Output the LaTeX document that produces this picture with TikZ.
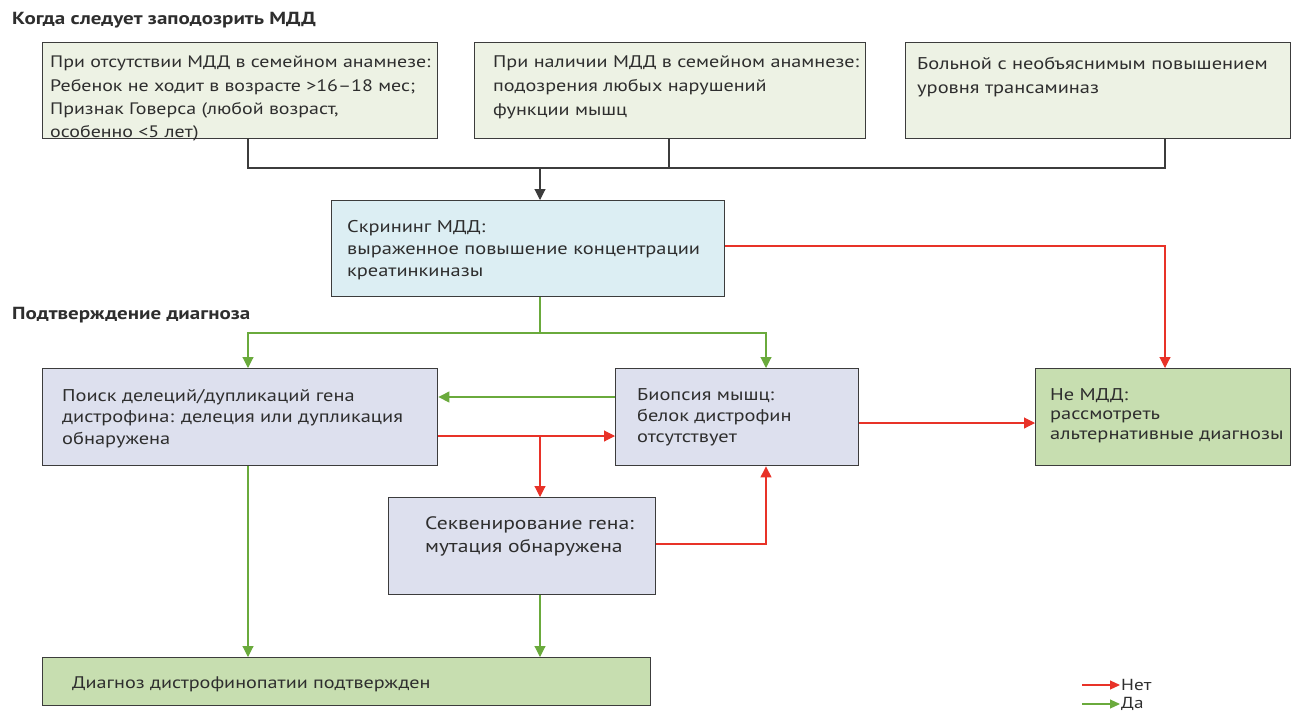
\documentclass[tikz,border=0pt]{standalone}
\usepackage{fontspec}
\setmainfont[FakeStretch=1.2]{PT Sans}
\usetikzlibrary{arrows.meta}
\definecolor{bordc}{HTML}{3C3C3C}
\definecolor{txtc}{HTML}{2E2E2E}
\definecolor{fillA}{HTML}{EDF2E4}
\definecolor{fillD}{HTML}{DCEEF3}
\definecolor{fillE}{HTML}{DDE0EE}
\definecolor{fillG}{HTML}{C7DEB0}
\definecolor{lgreen}{HTML}{6AAA3C}
\definecolor{lred}{HTML}{E83228}
\tikzset{
  box/.style={draw=bordc, line width=1.4pt, anchor=north west, inner sep=0pt},
  btxt/.style={anchor=north west, inner sep=0pt, align=left, text=txtc, font=\fontsize{17}{#1}\selectfont},
  btxt/.default=23,
  head/.style={anchor=west, inner sep=0pt, text=txtc, font=\fontsize{17.5}{20}\selectfont\bfseries},
  blk/.style={draw=bordc, line width=1.1pt},
  grn/.style={draw=lgreen, line width=1.1pt},
  rd/.style={draw=lred, line width=1.1pt},
  tip/.style={-{Triangle[length=11pt,width=11pt]}},
}
\begin{document}
\begin{tikzpicture}[x=1pt,y=-1pt]
\useasboundingbox (0,0) rectangle (1294,713);
% headings
\node[head] (h1) at (12,20) {Когда следует заподозрить МДД};
\node[head] (h2) at (12,315) {Подтверждение диагноза};
% boxes
\node[box, fill=fillA, minimum width=395pt, minimum height=96pt] (A) at (42,42) {};
\node[box, fill=fillA, minimum width=391pt, minimum height=96pt] (B) at (474,42) {};
\node[box, fill=fillA, minimum width=385pt, minimum height=96pt] (C) at (905,42) {};
\node[box, fill=fillD, minimum width=393pt, minimum height=96pt] (D) at (331,200) {};
\node[box, fill=fillE, minimum width=395pt, minimum height=97pt] (E) at (42,368) {};
\node[box, fill=fillE, minimum width=243pt, minimum height=97pt] (F) at (615,368) {};
\node[box, fill=fillG, minimum width=255pt, minimum height=97pt] (G) at (1035,368) {};
\node[box, fill=fillE, minimum width=267pt, minimum height=97pt] (H) at (388,497) {};
\node[box, fill=fillG, minimum width=608pt, minimum height=48pt] (I) at (42,657) {};
% texts
\node[btxt=23.3, font=\fontsize{16.6}{23.3}\selectfont] (tA) at (50,56) {При отсутствии МДД в семейном анамнезе:\\Ребенок не ходит в возрасте >16–18 мес;\\Признак Говерса (любой возраст,\\особенно <5 лет)};
\node[btxt=24, font=\fontsize{16.8}{24}\selectfont] (tB) at (493,56) {При наличии МДД в семейном анамнезе:\\подозрения любых нарушений\\функции мышц};
\node[btxt=24] (tC) at (917,57) {Больной с необъяснимым повышением\\уровня трансаминаз};
\node[btxt=22] (tD) at (347,220) {Скрининг МДД:\\выраженное повышение концентрации\\креатинкиназы};
\node[btxt=21.5] (tE) at (62,389) {Поиск делеций/дупликаций гена\\дистрофина: делеция или дупликация\\обнаружена};
\node[btxt=21] (tF) at (637,388) {Биопсия мышц:\\белок дистрофин\\отсутствует};
\node[btxt=19.5] (tG) at (1050,388) {Не МДД:\\рассмотреть\\альтернативные диагнозы};
\node[btxt=23, font=\fontsize{18}{23}\selectfont] (tH) at (425,516) {Секвенирование гена:\\мутация обнаружена};
\node[btxt, font=\fontsize{16.8}{23}\selectfont] (tI) at (72,677) {Диагноз дистрофинопатии подтвержден};
% black connectors
\coordinate (bL) at (248,168);
\coordinate (bB) at (669,168);
\coordinate (bR) at (1165,168);
\coordinate (bM) at (540,168);
\draw[blk] (A.south -| bL) -- (bL) -- (bR) -- (C.south -| bR);
\draw[blk] (B.south -| bB) -- (bB);
\draw[blk,tip] (bM) -- (D.north -| bM);
% green split from D
\coordinate (gM) at (540,333);
\coordinate (gL) at (248,333);
\coordinate (gR) at (766,333);
\draw[grn] (D.south -| gM) -- (gM);
\draw[grn,tip] (gM) -- (gL) -- (E.north -| gL);
\draw[grn,tip] (gM) -- (gR) -- (F.north -| gR);
% red D -> G
\coordinate (rD) at (724,246);
\coordinate (rG) at (1165,246);
\draw[rd,tip] (D.east |- rD) -- (rG) -- (G.north -| rG);
% F -> E green
\coordinate (fe) at (615,397);
\draw[grn,tip] (F.west |- fe) -- (E.east |- fe);
% E -> F red
\coordinate (ef) at (437,436);
\draw[rd,tip] (E.east |- ef) -- (F.west |- ef);
\coordinate (eh) at (540,436);
\draw[rd,tip] (eh) -- (H.north -| eh);
% H -> F red
\coordinate (hf) at (766,544);
\draw[rd,tip] (H.east |- hf) -- (hf) -- (F.south -| hf);
% F -> G red
\coordinate (fg) at (858,423);
\draw[rd,tip] (F.east |- fg) -- (G.west |- fg);
% to I
\draw[grn,tip] (E.south -| gL) -- (I.north -| gL);
\draw[grn,tip] (H.south -| eh) -- (I.north -| eh);
% legend
\coordinate (l1a) at (1082,685);
\coordinate (l1b) at (1120,685);
\coordinate (l2a) at (1082,704);
\coordinate (l2b) at (1120,704);
\draw[rd,-{Triangle[length=10pt,width=9pt]}] (l1a) -- (l1b);
\draw[grn,-{Triangle[length=10pt,width=9pt]}] (l2a) -- (l2b);
\node[anchor=west, inner sep=0pt, text=txtc, font=\fontsize{16}{18}\selectfont] (ln) at (1121,685) {Нет};
\node[anchor=west, inner sep=0pt, text=txtc, font=\fontsize{16}{18}\selectfont] (ld) at (1121,704) {Да};
\end{tikzpicture}
\end{document}
